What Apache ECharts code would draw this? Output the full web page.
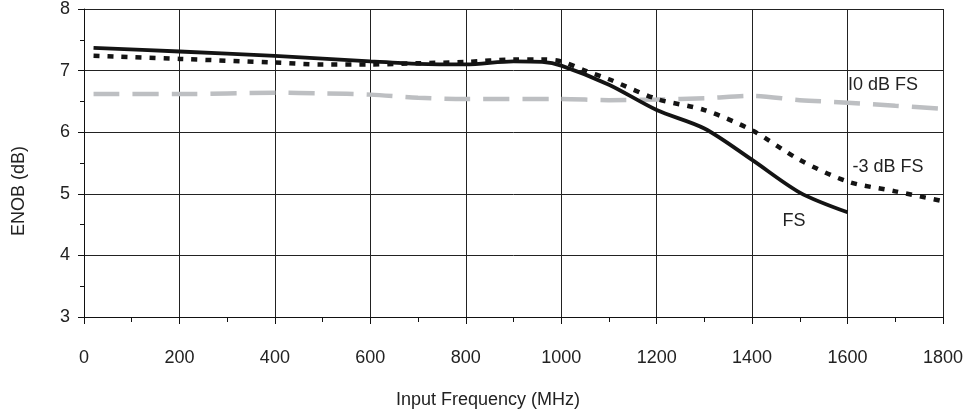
<!DOCTYPE html>
<html>
<head>
<meta charset="utf-8">
<script src="https://cdn.jsdelivr.net/npm/echarts@6/dist/echarts.min.js"></script>
<style>html,body{margin:0;padding:0;background:#fff}#c{width:967px;height:412px}</style>
</head>
<body>
<div id="c"></div>
<script>
var xTicks = [0, 200, 400, 600, 800, 1000, 1200, 1400, 1600, 1800];
var yTicks = [3, 4, 5, 6, 7, 8];

var freqFS = [20, 200, 400, 600, 700, 800, 900, 960, 1000, 1100, 1200, 1300, 1400, 1500, 1600];
var enobFS = [7.37, 7.31, 7.24, 7.15, 7.11, 7.10, 7.15, 7.14, 7.08, 6.77, 6.36, 6.06, 5.55, 5.02, 4.70];

var freqM3 = [20, 200, 400, 500, 600, 700, 800, 900, 960, 1000, 1050, 1100, 1200, 1300, 1400, 1500, 1600, 1700, 1800];
var enobM3 = [7.24, 7.19, 7.13, 7.10, 7.10, 7.12, 7.14, 7.18, 7.18, 7.15, 7.00, 6.86, 6.54, 6.36, 6.03, 5.55, 5.20, 5.04, 4.88];

var freqM10 = [20, 200, 400, 500, 600, 700, 800, 1000, 1100, 1200, 1300, 1400, 1500, 1600, 1700, 1800];
var enobM10 = [6.62, 6.62, 6.64, 6.63, 6.61, 6.56, 6.54, 6.54, 6.52, 6.53, 6.55, 6.59, 6.52, 6.48, 6.43, 6.38];

var seriesNames = ['FS', '-3 dB FS', 'I0 dB FS'];

function pairs(xs, ys) { return xs.map(function (x, i) { return [x, ys[i]]; }); }

var FONT = '"Liberation Sans", Arial, sans-serif';
var chart = echarts.init(document.getElementById('c'), null, {renderer: 'canvas'});
chart.setOption({
  animation: false,
  backgroundColor: '#fff',
  textStyle: {fontFamily: FONT},
  grid: {left: 84, right: 24, top: 6, bottom: 95, containLabel: false},
  xAxis: {
    type: 'value', min: xTicks[0], max: xTicks[xTicks.length - 1], interval: 200,
    axisLine: {lineStyle: {color: '#111', width: 1}},
    axisTick: {show: true, inside: false, length: 7, lineStyle: {color: '#111'}},
    minorTick: {show: true, splitNumber: 2, length: 5, lineStyle: {color: '#111'}},
    splitLine: {show: true, lineStyle: {color: '#222', width: 1}},
    axisLabel: {fontSize: 18, color: '#222', margin: 32, fontFamily: FONT,
      formatter: function (v) { return String(v); }}
  },
  yAxis: {
    type: 'value', min: yTicks[0], max: yTicks[yTicks.length - 1], interval: 1,
    axisLine: {show: true, lineStyle: {color: '#111', width: 1}},
    axisTick: {show: true, inside: false, length: 6, lineStyle: {color: '#111'}},
    minorTick: {show: true, splitNumber: 2, length: 4, lineStyle: {color: '#111'}},
    splitLine: {show: true, lineStyle: {color: '#222', width: 1}},
    axisLabel: {fontSize: 18, color: '#222', margin: 14, fontFamily: FONT,
      formatter: function (v) { return String(v); }}
  },
  series: [
    {
      name: seriesNames[2], type: 'line', data: pairs(freqM10, enobM10), smooth: 0.3,
      symbol: 'none', lineStyle: {color: '#bdbfc2', width: 4.5, type: [26, 13], cap: 'butt'}, z: 2
    },
    {
      name: seriesNames[1], type: 'line', data: pairs(freqM3, enobM3), smooth: 0.3,
      symbol: 'none', lineStyle: {color: '#141414', width: 4.5, type: [6, 8], cap: 'butt'}, z: 3
    },
    {
      name: seriesNames[0], type: 'line', data: pairs(freqFS, enobFS), smooth: 0.3,
      symbol: 'none', lineStyle: {color: '#141414', width: 3.8}, z: 4
    }
  ],
  graphic: [
    {type: 'text', x: 19, y: 191, rotation: Math.PI / 2, style: {text: 'ENOB (dB)', fill: '#222', font: '18px ' + FONT, textAlign: 'center', textVerticalAlign: 'middle'}},
    {type: 'text', x: 488, y: 400, style: {text: 'Input Frequency (MHz)', fill: '#222', font: '18px ' + FONT, textAlign: 'center', textVerticalAlign: 'middle'}},
    {type: 'text', x: 883, y: 85, style: {text: seriesNames[2], fill: '#222', font: '18px ' + FONT, textAlign: 'center', textVerticalAlign: 'middle'}},
    {type: 'text', x: 888, y: 167, style: {text: seriesNames[1], fill: '#222', font: '18px ' + FONT, textAlign: 'center', textVerticalAlign: 'middle'}},
    {type: 'text', x: 794, y: 221, style: {text: seriesNames[0], fill: '#222', font: '18px ' + FONT, textAlign: 'center', textVerticalAlign: 'middle'}}
  ]
});
</script>
</body>
</html>
